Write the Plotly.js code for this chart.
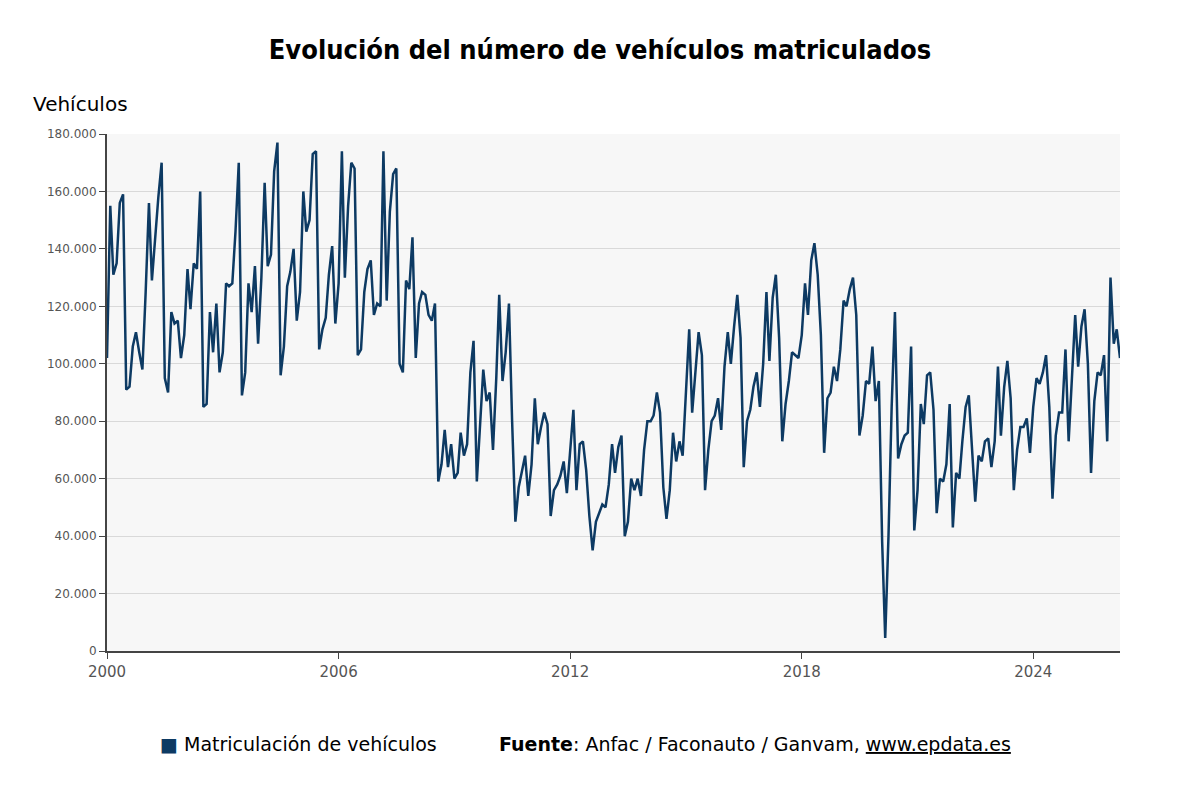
<!DOCTYPE html>
<html>
<head>
<meta charset="utf-8">
<script src="https://cdn.plot.ly/plotly-3.0.1.min.js"></script>
<style>body{margin:0;background:#fff}#graph{width:1200px;height:800px}</style>
</head>
<body>
<div id="graph"></div>
<script>
// monthly registrations, thousands, one row per year starting Jan 2000
const y2000 = [102,155,131,135,156,159,91,92,106,111,104,98];
const y2001 = [125,156,129,145,158,170,95,90,118,114,115,102];
const y2002 = [110,133,119,135,133,160,85,86,118,104,121,97];
const y2003 = [104,128,127,128,146,170,89,97,128,118,134,107];
const y2004 = [130,163,134,138,167,177,96,106,127,132,140,115];
const y2005 = [125,160,146,150,173,174,105,112,116,131,141,114];
const y2006 = [128,174,130,155,170,168,103,105,125,133,136,117];
const y2007 = [121,120,174,122,153,166,168,100,97,129,126,144];
const y2008 = [102,121,125,124,117,115,121,59,65,77,64,72];
const y2009 = [60,62,76,68,72,97,108,59,77,98,87,90];
const y2010 = [70,95,124,94,104,121,80,45,57,62,68,54];
const y2011 = [65,88,72,78,83,79,47,56,58,61,66,55];
const y2012 = [70,84,56,72,73,63,47,35,45,48,51,50];
const y2013 = [58,72,62,71,75,40,45,60,56,60,54,70];
const y2014 = [80,80,82,90,83,57,46,56,76,66,73,68];
const y2015 = [88,112,83,96,111,103,56,70,80,82,88,77];
const y2016 = [99,111,100,113,124,109,64,80,84,92,97,85];
const y2017 = [100,125,101,123,131,109,73,86,94,104,103,102];
const y2018 = [110,128,117,136,142,131,110,69,88,90,99,94];
const y2019 = [105,122,120,126,130,117,75,82,94,93,106,87];
const y2020 = [94,38,4.5,40,85,118,67,72,75,76,106,42];
const y2021 = [56,86,79,96,97,84,48,60,59,65,86,43];
const y2022 = [62,60,73,85,89,70,52,68,66,73,74,64];
const y2023 = [73,99,75,92,101,88,56,70,78,78,81,69];
const y2024 = [85,95,93,97,103,85,53,75,83,83,105,73];
const y2025 = [94,117,99,113,119,100,62,87,97,96,103,73];
const y2026 = [130,107,112,102];

const years = [y2000,y2001,y2002,y2003,y2004,y2005,y2006,y2007,y2008,y2009,y2010,y2011,y2012,
  y2013,y2014,y2015,y2016,y2017,y2018,y2019,y2020,y2021,y2022,y2023,y2024,y2025,y2026];

let x = [], y = [];
years.forEach((vals, i) => {
  vals.forEach((v, m) => {
    x.push((2000 + i) + '-' + String(m + 1).padStart(2, '0') + '-01');
    y.push(v * 1000);
  });
});

const trace = {
  x: x, y: y, mode: 'lines', name: 'Matriculación de vehículos',
  line: {color: '#0d3a63', width: 2.5}, showlegend: false
};

const layout = {
  width: 1200, height: 800,
  separators: ',.',
  font: {family: 'DejaVu Sans, sans-serif', color: '#222'},
  paper_bgcolor: '#fff', plot_bgcolor: '#f7f7f7',
  margin: {l: 107, r: 80, t: 134, b: 149},
  title: {text: '<b>Evolución del número de vehículos matriculados</b>', x: 0.5, y: 0.95,
          font: {family: 'DejaVu Sans Condensed, DejaVu Sans, sans-serif', size: 27, color: '#000'}},
  xaxis: {
    type: 'date', range: [x[0], x[x.length - 1]],
    tick0: '2000-01-01', dtick: 'M72', tickformat: '%Y',
    showgrid: false, ticks: 'outside', ticklen: 6, tickcolor: '#444',
    showline: true, linecolor: '#444', linewidth: 2,
    tickfont: {size: 15, color: '#555'}
  },
  yaxis: {
    range: [0, 180000], dtick: 20000, tickformat: ',d',
    gridcolor: '#d9d9d9', zeroline: false, ticks: 'outside', ticklen: 6, tickcolor: '#444',
    showline: true, linecolor: '#444', linewidth: 2,
    tickfont: {size: 12, color: '#555'}
  },
  annotations: [
    {text: 'Vehículos', xref: 'paper', yref: 'paper', x: -0.075, y: 1.03, xanchor: 'left', yanchor: 'bottom',
     showarrow: false, font: {size: 20, color: '#000'}},
    {text: '<span style="color:#0d3a63">■</span> Matriculación de vehículos', xref: 'paper', yref: 'paper',
     x: 0.05, y: -0.205, xanchor: 'left', showarrow: false, font: {size: 19, color: '#000'}},
    {text: '<b>Fuente</b>: Anfac / Faconauto / Ganvam, <u>www.epdata.es</u>', xref: 'paper', yref: 'paper',
     x: 0.385, y: -0.205, xanchor: 'left', showarrow: false, font: {size: 19, color: '#000'}}
  ]
};

Plotly.newPlot('graph', [trace], layout, {displayModeBar: false});
</script>
</body>
</html>
